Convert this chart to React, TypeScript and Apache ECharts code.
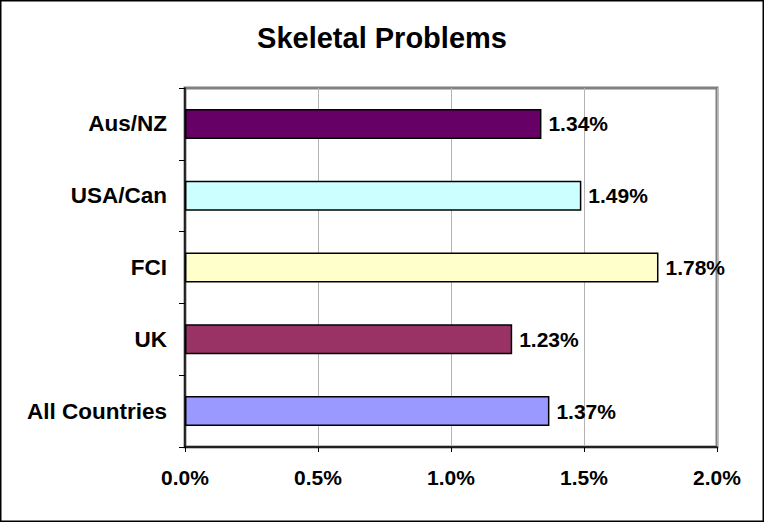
import React, { useEffect, useRef } from "react";
import * as echarts from "echarts";

const categories = ["All Countries", "UK", "FCI", "USA/Can", "Aus/NZ"];
const values = [1.37, 1.23, 1.78, 1.49, 1.34];
const barColors = ["#9999ff", "#993366", "#ffffcc", "#ccffff", "#660066"];
const xTicks = { min: 0, max: 2.0, interval: 0.5 };
const titleText = "Skeletal Problems";

const FONT = "'Liberation Sans', Arial, sans-serif";

export default function App() {
  const ref = useRef<HTMLDivElement>(null);
  useEffect(() => {
    if (!ref.current) return;
    const chart = echarts.init(ref.current, undefined, { renderer: "svg" });
    chart.setOption({
      animation: false,
      backgroundColor: "#ffffff",
      title: {
        text: titleText,
        left: "center",
        top: 18,
        textStyle: { fontFamily: FONT, fontWeight: "bold", fontSize: 29, color: "#000" },
      },
      grid: {
        left: 185,
        right: 47,
        top: 88,
        bottom: 75,
        show: true,
        borderColor: "#808080",
        borderWidth: 3,
        backgroundColor: "#ffffff",
      },
      xAxis: {
        type: "value",
        min: xTicks.min,
        max: xTicks.max,
        interval: xTicks.interval,
        axisLine: { show: true, lineStyle: { color: "#000", width: 1.5 } },
        axisTick: { show: true, length: 5, lineStyle: { color: "#000" } },
        splitLine: { show: true, lineStyle: { color: "#b4b4b4", width: 1 } },
        axisLabel: {
          margin: 20,
          fontFamily: FONT,
          fontWeight: "bold",
          fontSize: 21,
          color: "#000",
          formatter: (v: number) => v.toFixed(1) + "%",
        },
      },
      yAxis: {
        type: "category",
        data: categories,
        axisLine: { show: true, lineStyle: { color: "#000", width: 1.5 } },
        axisTick: { show: true, length: 6, alignWithLabel: false, lineStyle: { color: "#000" } },
        axisLabel: {
          margin: 18,
          fontFamily: FONT,
          fontWeight: "bold",
          fontSize: 22.5,
          color: "#000",
        },
      },
      series: [
        {
          type: "bar",
          barWidth: 30,
          data: values.map((v, i) => ({
            value: v,
            itemStyle: { color: barColors[i], borderColor: "#000", borderWidth: 1.5 },
          })),
          label: {
            show: true,
            position: "right",
            distance: 7,
            fontFamily: FONT,
            fontWeight: "bold",
            fontSize: 21,
            color: "#000",
            formatter: (p: any) => p.value.toFixed(2) + "%",
          },
        },
      ],
      graphic: [
        {
          type: "rect",
          shape: { x: 0.75, y: 0.75, width: 762.5, height: 520.5 },
          style: { fill: "none", stroke: "#000", lineWidth: 1.5 },
          silent: true,
          z: 100,
        },
      ],
    });
    return () => chart.dispose();
  }, []);
  return (
    <div
      ref={ref}
      style={{ position: "fixed", left: 0, top: 0, width: 764, height: 522 }}
    />
  );
}
